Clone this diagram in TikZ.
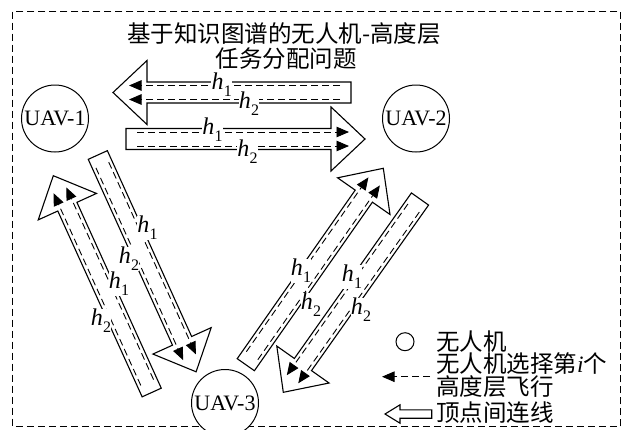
\documentclass[tikz,border=0pt]{standalone}
\usepackage{fontspec}
\setmainfont{Liberation Serif}
\newfontfamily\cjk{Noto Sans CJK SC}
\usetikzlibrary{calc,arrows.meta}

\tikzset{
  blockline/.style={draw=black, line width=1.1pt, fill=white, line join=miter},
  innerline/.style={line width=0.9pt, dash pattern=on 7pt off 4pt, -{Triangle[length=12.5pt,width=10.5pt]}},
  hlab/.style={fill=white, inner sep=0.3pt, font=\fontsize{24}{24}\selectfont},
  uav/.style={circle, draw, line width=1pt, fill=white, minimum size=67pt, inner sep=0pt, font=\fontsize{22}{22}\selectfont},
  cjktext/.style={font=\cjk\fontsize{23.5}{26}\selectfont, inner sep=0pt},
}

\newcommand{\blockarr}[3]{%
  \coordinate (#1-T) at #2;
  \coordinate (#1-P) at #3;
  \coordinate (#1-B) at ($(#1-P)!34pt!(#1-T)$);
  \coordinate (#1-S) at ($(#1-T)!11pt!(#1-P)$);
  \coordinate (#1-E) at ($(#1-P)!16pt!(#1-T)$);
  \draw[blockline] ($(#1-T)!10.5pt!90:(#1-P)$) -- ($(#1-B)!10.5pt!90:(#1-P)$) -- ($(#1-B)!32pt!90:(#1-P)$) -- (#1-P) -- ($(#1-B)!32pt!-90:(#1-P)$) -- ($(#1-B)!10.5pt!-90:(#1-P)$) -- ($(#1-T)!10.5pt!-90:(#1-P)$) -- cycle;
  \draw[innerline] ($(#1-S)!7pt!90:(#1-P)$) -- ($(#1-E)!7pt!90:(#1-P)$);
  \draw[innerline] ($(#1-S)!7pt!-90:(#1-P)$) -- ($(#1-E)!7pt!-90:(#1-P)$);
}
\newcommand{\hsub}[1]{\textit{h}\kern0.3pt\raisebox{-0.3em}{\fontsize{16}{16}\selectfont #1}}

\begin{document}
\begin{tikzpicture}[x=1pt,y=-1pt]
\useasboundingbox (0,0) rectangle (623,429);

% outer dashed frame
\draw[line width=1.1pt, dash pattern=on 7pt off 4pt] (12.7,11.7) rectangle (620.7,426.5);

% title
\node[cjktext] (t1) at (284,34) {基于知识图谱的无人机-高度层};
\node[cjktext] (t2) at (286,59) {任务分配问题};

% UAV nodes
\node[uav] (u1) at (55,118.5) {UAV-1};
\node[uav] (u2) at (416,118.5) {UAV-2};
\node[uav] (u3) at (225,403) {UAV-3};

% block arrows (connectors between UAVs)
\blockarr{A}{(351,92.5)}{(113,92.5)}
\blockarr{B}{(126,139)}{(365,139)}
\blockarr{C}{(151.7,392.5)}{(53.3,175.7)}
\blockarr{D}{(97.8,155)}{(196.1,371.8)}
\blockarr{E}{(245.8,364.7)}{(383.3,168.3)}
\blockarr{F}{(420,199)}{(283.3,392.3)}

% altitude labels
\node[hlab] (a1) at (221.7,85) {\hsub{1}};
\node[hlab] (a2) at (249,103.3) {\hsub{2}};
\node[hlab] (b1) at (212.5,130) {\hsub{1}};
\node[hlab] (b2) at (247.5,151.7) {\hsub{2}};
\node[hlab] (d1) at (147.5,228) {\hsub{1}};
\node[hlab] (d2) at (129,259) {\hsub{2}};
\node[hlab] (c1) at (119,284) {\hsub{1}};
\node[hlab] (c2) at (101,321) {\hsub{2}};
\node[hlab] (e1) at (301,271) {\hsub{1}};
\node[hlab] (e2) at (311,305) {\hsub{2}};
\node[hlab] (f1) at (352,277) {\hsub{1}};
\node[hlab] (f2) at (361,310) {\hsub{2}};

% legend
\node[circle, draw, line width=1pt, minimum size=18pt, inner sep=0pt] (lc) at (405,341.7) {};
\node[cjktext, anchor=west] (l1) at (436,341.7) {无人机};
\node[cjktext, anchor=west] (l2) at (436,364) {无人机选择第{\rmfamily\itshape i}个};
\node[cjktext, anchor=west] (l3) at (436,387) {高度层飞行};
\node[cjktext, anchor=west] (l4) at (436,413) {顶点间连线};
\coordinate (la1) at (430,376.7);
\coordinate (la2) at (382,376.7);
\draw[innerline] (la1) -- (la2);
\coordinate (lb1) at (431.7,414);
\coordinate (lb2) at (385,414);
\draw[blockline] (lb1) ++(0,-4.2) -- (400,409.8) -- (400,404.8) -- (lb2) -- (400,423.2) -- (400,418.2) -- (431.7,418.2) -- cycle;
\end{tikzpicture}
\end{document}
